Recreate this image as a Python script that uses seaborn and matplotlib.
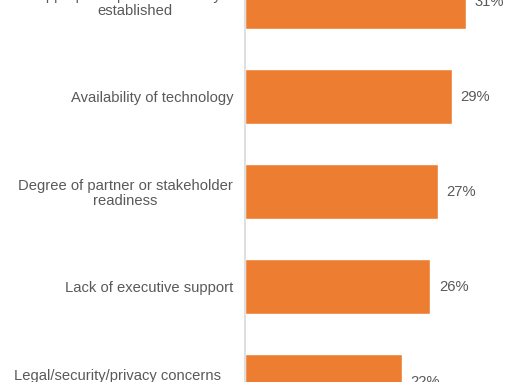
import matplotlib
matplotlib.use("Agg")
import matplotlib.pyplot as plt
import seaborn as sns
import pandas as pd

categories = [
    "Appropriate processes not yet\nestablished",
    "Availability of technology",
    "Degree of partner or stakeholder\nreadiness",
    "Lack of executive support",
    "Legal/security/privacy concerns\nthat limit data sharing with partners",
]
values = [31, 29, 27, 26, 22]

df = pd.DataFrame({"category": categories, "value": values})

sns.set_theme(style="white")
plt.rcParams["font.family"] = ["Liberation Sans", "DejaVu Sans"]

fig = plt.figure(figsize=(5.1, 3.82), dpi=100)
ax = fig.add_axes([245 / 510, 0, 250 / 510, 1])

sns.barplot(data=df, x="value", y="category", orient="h", color="#ED7D31",
            saturation=1, width=0.58, ax=ax)

ax.set_xlim(0, 35.05)
ax.set_ylim(4 + 0.5 / 95, -1.5 / 95)
ax.set_xlabel("")
ax.set_ylabel("")
ax.set_xticks([])
for s in ["top", "right", "bottom"]:
    ax.spines[s].set_visible(False)
ax.spines["left"].set_color("#D9D9D9")
ax.spines["left"].set_linewidth(1.2)
ax.tick_params(axis="y", length=0, pad=8.6, labelsize=10.6, labelcolor="#595959")
for lbl in ax.get_yticklabels():
    lbl.set_multialignment("center")
    lbl.set_linespacing(1.1)

for c in ax.containers:
    ax.bar_label(c, labels=[f"{v}%" for v in values], padding=6,
                 fontsize=10.6, color="#595959")

fig.savefig("out.png", dpi=100)
